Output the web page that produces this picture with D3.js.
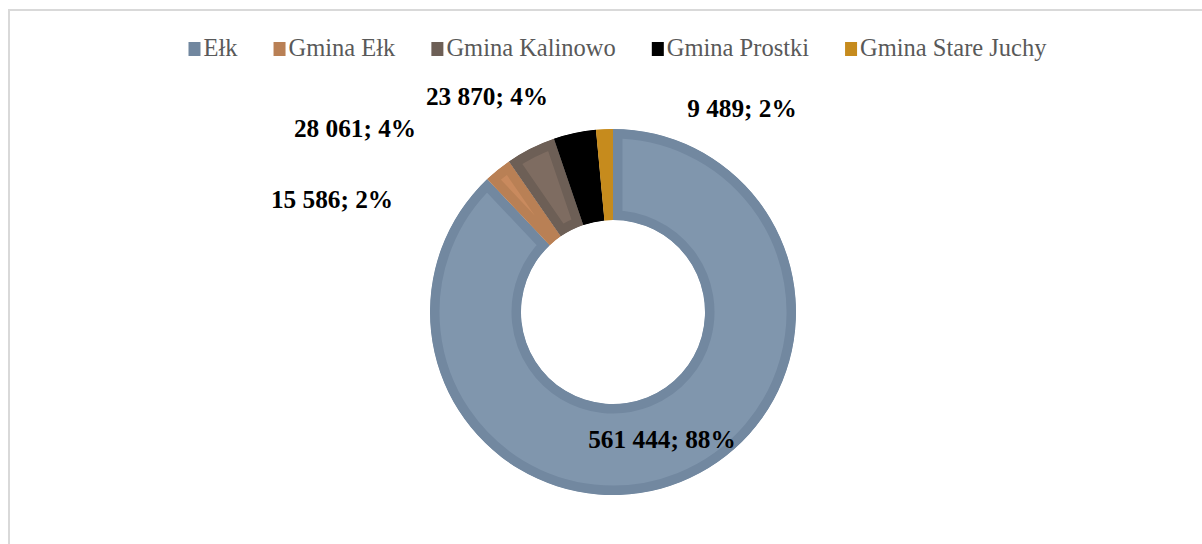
<!DOCTYPE html>
<html>
<head>
<meta charset="utf-8">
<script src="https://cdn.jsdelivr.net/npm/d3@7"></script>
<style>
  html, body { margin: 0; padding: 0; background: #ffffff; }
  svg { display: block; }
</style>
</head>
<body>
<svg id="chart" width="1202" height="544"></svg>
<script>
// ---- data ----
const categories = ["Ełk", "Gmina Ełk", "Gmina Kalinowo", "Gmina Prostki", "Gmina Stare Juchy"];
const values = [561444, 15586, 28061, 23870, 9489];
const percentLabels = ["88%", "2%", "4%", "4%", "2%"];
const valueLabels = ["561 444", "15 586", "28 061", "23 870", "9 489"];

// ---- styles ----
const fillLight = ["#8096ad", "#c98a5e", "#7e6c61", "#000000", "#c68b1d"];
const fillDark  = ["#7288a0", "#b98055", "#6d5f56", "#000000", "#c68b1d"];
const legendColors = ["#71879f", "#b98055", "#6d5f56", "#000000", "#c68b1d"];

const W = 1202, H = 544;
const cx = 613, cy = 312;
const outerR = 183, innerR = 92;
const band = 9.5;

// label placement offsets relative to chart center (manually positioned in original)
const labelOffsets = [[49, 136], [-281, -104], [-258, -175], [-126, -207], [129, -195]];

const svg = d3.select("#chart");

// frame
svg.append("rect")
  .attr("x", 9).attr("y", 10)
  .attr("width", W).attr("height", H)
  .attr("fill", "none")
  .attr("stroke", "#d9d9d9")
  .attr("stroke-width", 2);

const pie = d3.pie().sort(null).value(d => d)(values);
const arc = d3.arc().innerRadius(innerR).outerRadius(outerR);

const g = svg.append("g").attr("transform", `translate(${cx},${cy})`);
const defs = svg.append("defs");

pie.forEach((p, i) => {
  const d = arc(p);
  defs.append("clipPath").attr("id", "clip" + i)
    .append("path").attr("d", d);
  const sg = g.append("g").attr("clip-path", `url(#clip${i})`);
  sg.append("path")
    .attr("d", d)
    .attr("fill", fillLight[i])
    .attr("stroke", fillDark[i])
    .attr("stroke-width", band * 2)
    .attr("stroke-linejoin", "miter");
});

// data labels
pie.forEach((p, i) => {
  g.append("text")
    .attr("x", labelOffsets[i][0])
    .attr("y", labelOffsets[i][1])
    .attr("text-anchor", "middle")
    .attr("font-family", "'Liberation Serif', 'Times New Roman', serif")
    .attr("font-weight", "bold")
    .attr("font-size", 25.3)
    .attr("fill", "#000000")
    .text(valueLabels[i] + "; " + percentLabels[i]);
});

// legend
const legend = svg.append("g");
const legendFont = 24.5;
const items = categories.map((c, i) => {
  const it = legend.append("g");
  it.append("rect")
    .attr("width", 12).attr("height", 14)
    .attr("y", -14)
    .attr("fill", legendColors[i]);
  const t = it.append("text")
    .attr("x", 15)
    .attr("font-family", "'Liberation Serif', 'Times New Roman', serif")
    .attr("font-size", legendFont)
    .attr("fill", "#595959")
    .text(c);
  return { g: it, w: 15 + t.node().getComputedTextLength() };
});
const gap = 36;
const totalW = d3.sum(items, d => d.w) + gap * (items.length - 1);
let x0 = 617.5 - totalW / 2;
items.forEach(it => {
  it.g.attr("transform", `translate(${x0},56)`);
  x0 += it.w + gap;
});
</script>
</body>
</html>
